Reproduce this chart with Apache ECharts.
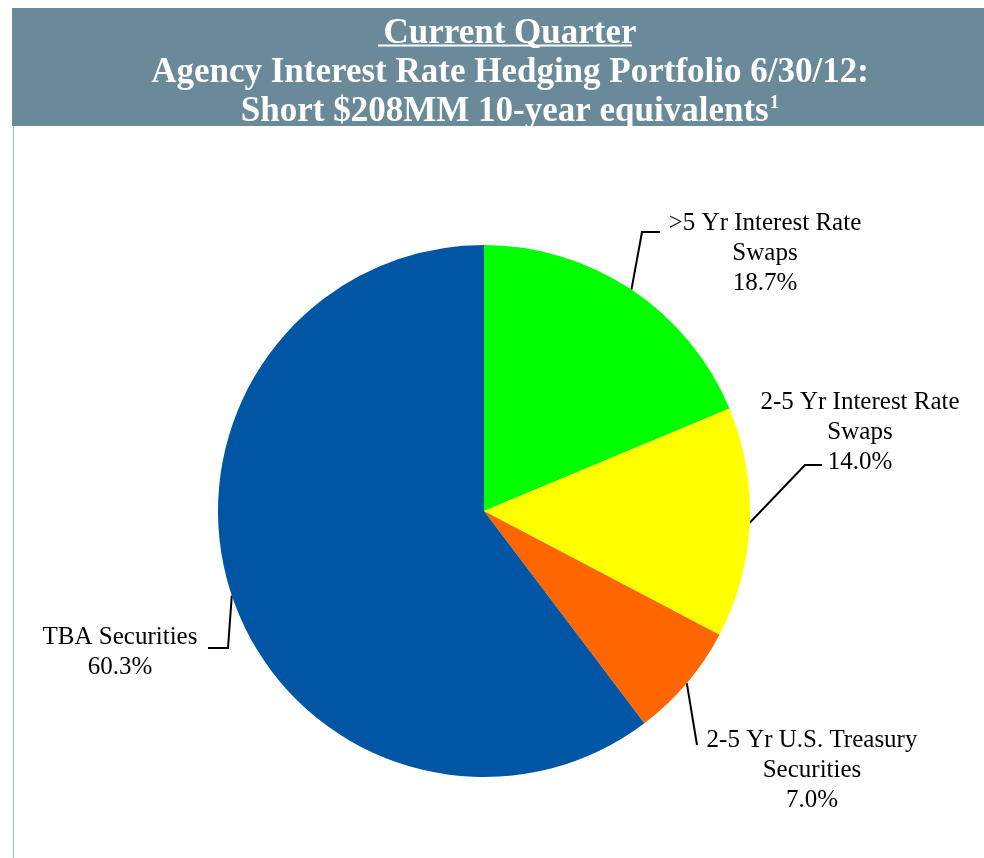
<!DOCTYPE html>
<html><head><meta charset="utf-8">
<script src="https://cdn.jsdelivr.net/npm/echarts@6/dist/echarts.min.js"></script>
<style>html,body{margin:0;padding:0;background:#fff}#c{width:984px;height:858px}</style>
</head><body><div id="c"></div>
<script>
// ---- data ----
const titleLine1 = 'Current Quarter';
const titleLine2 = 'Agency Interest Rate Hedging Portfolio 6/30/12:';
const titleLine3 = 'Short $208MM 10-year equivalents';
const footnoteMark = '1';
const categories = ['>5 Yr Interest Rate\nSwaps', '2-5 Yr Interest Rate\nSwaps', '2-5 Yr U.S. Treasury\nSecurities', 'TBA Securities'];
const values = [18.7, 14.0, 7.0, 60.3];

// ---- styles ----
const sliceColors = ['#00FF00', '#FFFF00', '#FF6600', '#0055A5'];
// label centre and leader-line end (relative to label centre) + elbow offset
const labelPlacement = [
  {x: 765, y: 253, ex: -105, ey: -21, elbow: -18},
  {x: 860, y: 432, ex: -38, ey: 33, elbow: -17},
  {x: 812, y: 770, ex: -115, ey: -25, elbow: 0},
  {x: 120, y: 652, ex: 88, ey: -4, elbow: 20}
];
const serif = '"Liberation Serif", "Times New Roman", serif';
const titleSize = 35;

const chart = echarts.init(document.getElementById('c'));
chart.setOption({
  animation: false,
  backgroundColor: '#ffffff',
  graphic: [
    {type: 'rect', left: 12, top: 8, shape: {width: 972, height: 118}, style: {fill: '#6A8A9A'}, z: 0},
    {type: 'line', shape: {x1: 13.5, y1: 126, x2: 13.5, y2: 858}, style: {stroke: '#A9B8C8', lineWidth: 1}},
    {type: 'line', shape: {x1: 378, y1: 45.5, x2: 632, y2: 45.5}, style: {stroke: '#ffffff', lineWidth: 2}, z: 10}
  ],
  title: [
    {text: titleLine1, left: 505, top: 11, textAlign: 'center',
     textStyle: {color: '#fff', fontFamily: serif, fontWeight: 'bold', fontSize: titleSize}},
    {text: titleLine2, left: 505, top: 50, textAlign: 'center',
     textStyle: {color: '#fff', fontFamily: serif, fontWeight: 'bold', fontSize: titleSize}},
    {text: titleLine3 + '{sup|' + footnoteMark + '}', left: 505, top: 89, textAlign: 'center',
     textStyle: {color: '#fff', fontFamily: serif, fontWeight: 'bold', fontSize: titleSize,
       rich: {sup: {color: '#fff', fontFamily: serif, fontWeight: 'bold', fontSize: 19, verticalAlign: 'top', padding: [0, 0, 12, 1]}}}}
  ],
  series: [{
    type: 'pie',
    center: [484, 511],
    radius: [0, 266],
    startAngle: 90,
    clockwise: true,
    avoidLabelOverlap: false,
    itemStyle: {borderWidth: 0},
    label: {
      show: true,
      position: 'outside',
      color: '#000',
      fontFamily: serif,
      fontSize: 25,
      lineHeight: 30,
      align: 'center',
      formatter: p => p.name + '\n' + p.value.toFixed(1) + '%'
    },
    labelLine: {show: true, length: 10, length2: 10, lineStyle: {color: '#000', width: 2}},
    labelLayout: function (params) {
      const lp = labelPlacement[params.dataIndex];
      const start = params.labelLinePoints ? params.labelLinePoints[0] : null;
      const end = [lp.x + lp.ex, lp.y + lp.ey];
      const out = {x: lp.x, y: lp.y, align: 'center', verticalAlign: 'middle'};
      if (start) {
        out.labelLinePoints = [start, [end[0] + lp.elbow, end[1]], end];
      }
      return out;
    },
    data: categories.map((c, i) => ({name: c, value: values[i], itemStyle: {color: sliceColors[i]}}))
  }]
});
</script>
</body></html>
